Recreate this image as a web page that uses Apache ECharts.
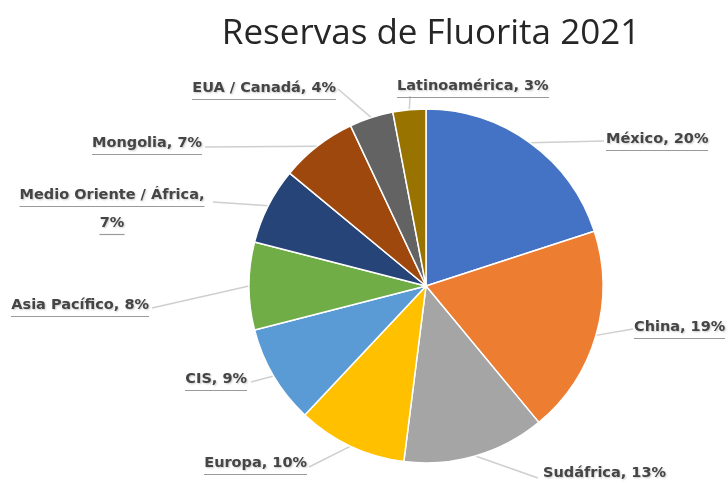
<!DOCTYPE html>
<html><head><meta charset="utf-8">
<script src="https://cdn.jsdelivr.net/npm/echarts@6/dist/echarts.min.js"></script>
<style>html,body{margin:0;padding:0;background:#fff}#c{width:728px;height:483px}</style>
</head><body><div id="c"></div>
<script>
const categories = ['México','China','Sudáfrica','Europa','CIS','Asia Pacífico','Medio Oriente / África','Mongolia','EUA / Canadá','Latinoamérica'];
const values = [20,19,13,10,9,8,7,7,4,3];
const colors = ['#4472C4','#ED7D31','#A5A5A5','#FFC000','#5B9BD5','#70AD47','#264478','#9E480E','#636363','#997300'];

// label placement (x, y, align, line end x, line end y) — styling only
const labelPos = [
  [606, 141, 'left', 604, 141],
  [634, 329, 'left', 633, 329],
  [543, 475, 'left', 538, 478],
  [307, 465, 'right', 309, 467],
  [247, 381, 'right', 251, 382],
  [149, 307, 'right', 152, 308],
  [112, 211, 'center', 213, 202],
  [202, 145, 'right', 205, 147],
  [336, 90, 'right', 338, 89],
  [397, 88, 'left', 410, 96]
];

const FS = 14.5;
const FONT = 'bold ' + FS + 'px "DejaVu Sans"';
const cv = document.createElement('canvas').getContext('2d');
cv.font = FONT;
const tStyle = {fontFamily: 'DejaVu Sans', fontWeight: 'bold', fontSize: FS, color: '#454545', lineHeight: 19,
  textShadowColor: 'rgba(0,0,0,0.22)', textShadowBlur: 2, textShadowOffsetX: 1, textShadowOffsetY: 1};

const data = categories.map((n, i) => {
  const full = n + ', ' + values[i] + '%';
  let lines;
  if (n === 'Medio Oriente / África') lines = [n + ',', values[i] + '%'];
  else lines = [full];
  const rich = {t: tStyle, s: {height: 6, lineHeight: 6}};
  let fmt = [];
  lines.forEach((ln, k) => {
    const w = Math.round(cv.measureText(ln).width);
    rich['u' + k] = {width: w, height: 1.2, lineHeight: 3, backgroundColor: '#9a9a9a'};
    if (k > 0) fmt.push('{s|}');
    fmt.push('{t|' + ln + '}');
    fmt.push('{u' + k + '|}');
  });
  return {name: n, value: values[i], itemStyle: {color: colors[i]},
    label: {formatter: fmt.join('\n'), rich: rich}};
});

const chart = echarts.init(document.getElementById('c'));
chart.setOption({
  backgroundColor: '#fff',
  title: {text: 'Reservas de Fluorita 2021', left: 426, textAlign: 'center', top: 12,
    textStyle: {fontFamily: 'Open Sans', fontWeight: 'normal', fontSize: 35, color: '#262626'}},
  series: [{
    type: 'pie', center: [426, 286], radius: 177, startAngle: 90, clockwise: true,
    data: data, animation: false,
    itemStyle: {borderColor: '#fff', borderWidth: 1.5},
    label: {position: 'outside', overflow: 'none', width: 300},
    labelLine: {show: true, length: 15, length2: 20, lineStyle: {color: '#cfcfcf', width: 1.5}},
    labelLayout: function (p) {
      const L = labelPos[p.dataIndex];
      const pts = p.labelLinePoints;
      const start = pts ? pts[0] : [L[3], L[4]];
      return {x: L[0], y: L[1], align: L[2], verticalAlign: 'middle',
        labelLinePoints: [start, [L[3], L[4]], [L[3], L[4]]]};
    }
  }]
});
</script></body></html>
